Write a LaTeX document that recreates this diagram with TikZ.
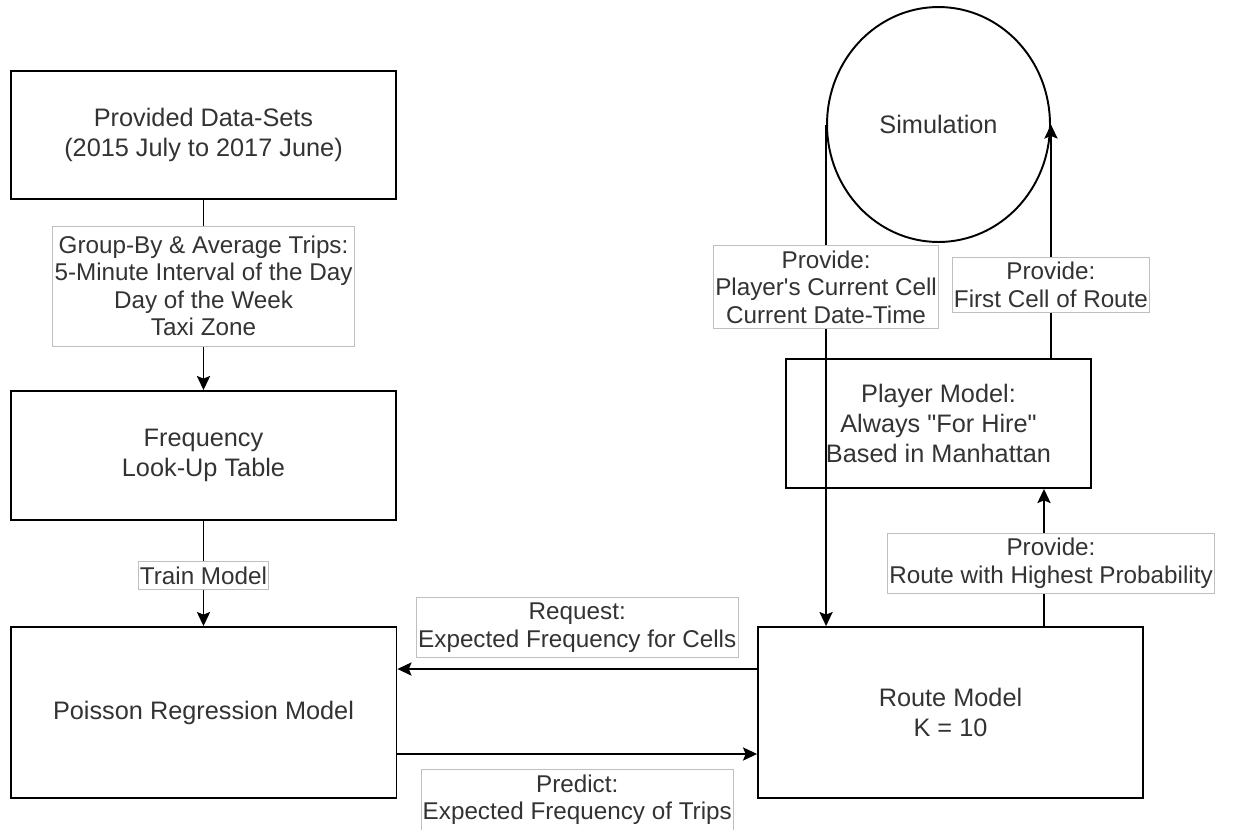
\documentclass[tikz,border=0pt]{standalone}
\usepackage{fontspec}
\setmainfont{Liberation Sans}
\usetikzlibrary{arrows.meta,shapes.geometric}

\begin{document}
\begin{tikzpicture}[x=0.02cm,y=-0.02cm]
     \tikzstyle{block}=[draw, line width=1.1pt, text=black!80, align=center, font=\fontsize{14.4}{17.07}\selectfont]
     \tikzstyle{lbl}=[draw=black!25, line width=0.5pt, fill=white, text=black!80, align=center, inner xsep=1pt, inner ysep=3pt, font=\fontsize{13.8}{15.65}\selectfont]
     \tikzstyle{link}=[line width=1.1pt, -{Stealth[length=8pt,width=7.5pt,inset=1.5pt]}]
     \useasboundingbox (0,0) rectangle (1250,829);
     \node[block, minimum width=7.7cm, minimum height=2.56cm] (data) at (203.5,135) {Provided Data-Sets\\ (2015 July to 2017 June)};
     \node[block, minimum width=7.7cm, minimum height=2.58cm] (table) at (203.5,455.5) {Frequency\\Look-Up Table};
     \node[block, minimum width=7.72cm, minimum height=3.42cm] (poisson) at (203.5,712.5) {Poisson Regression Model};
     \node[block, minimum width=7.7cm, minimum height=3.42cm] (route) at (950.5,712.5) {Route Model\\K = 10};
     \node[block, minimum width=6.1cm, minimum height=2.58cm] (player) at (938.5,423.5) {Player Model:\\Always \textquotedbl For Hire\textquotedbl\\Based in Manhattan};
     \node[block, ellipse, minimum width=4.46cm, minimum height=4.7cm] (sim) at (938.5,124.5) {Simulation};
     \draw[link] (data) -- node[lbl, minimum height=2.4cm, pos=0.453] (groupby) {Group-By \& Average Trips:\\5-Minute Interval of the Day\\Day of the Week\\Taxi Zone} (table);
     \draw[link] (table) -- node[lbl, pos=0.519] (train) {Train Model} (poisson);
     \draw[link] ([yshift=0.87cm]route.west) -- node[lbl, above=0.22cm] (request) {Request:\\Expected Frequency for Cells} ([yshift=0.87cm]poisson.east);
     \draw[link] ([yshift=-0.83cm]poisson.east) -- node[lbl, below=0.3cm] (predict) {Predict:\\Expected Frequency of Trips} ([yshift=-0.83cm]route.west);
     \draw[link] (sim.west) -- node[lbl, pos=0.324] (current) {Provide:\\Player\textquotesingle s Current Cell\\Current Date-Time} (sim.west |- route.north);
     \draw[link] (sim.east |- player.north) -- node[lbl, pos=0.313] (first) {Provide:\\First Cell of Route} (sim.east);
     \draw[link] ([xshift=1.87cm]route.north) -- node[lbl, pos=0.457, xshift=0.14cm] (best) {Provide:\\Route with Highest Probability} ([xshift=1.87cm]route.north |- player.south);
\end{tikzpicture}
\end{document}
